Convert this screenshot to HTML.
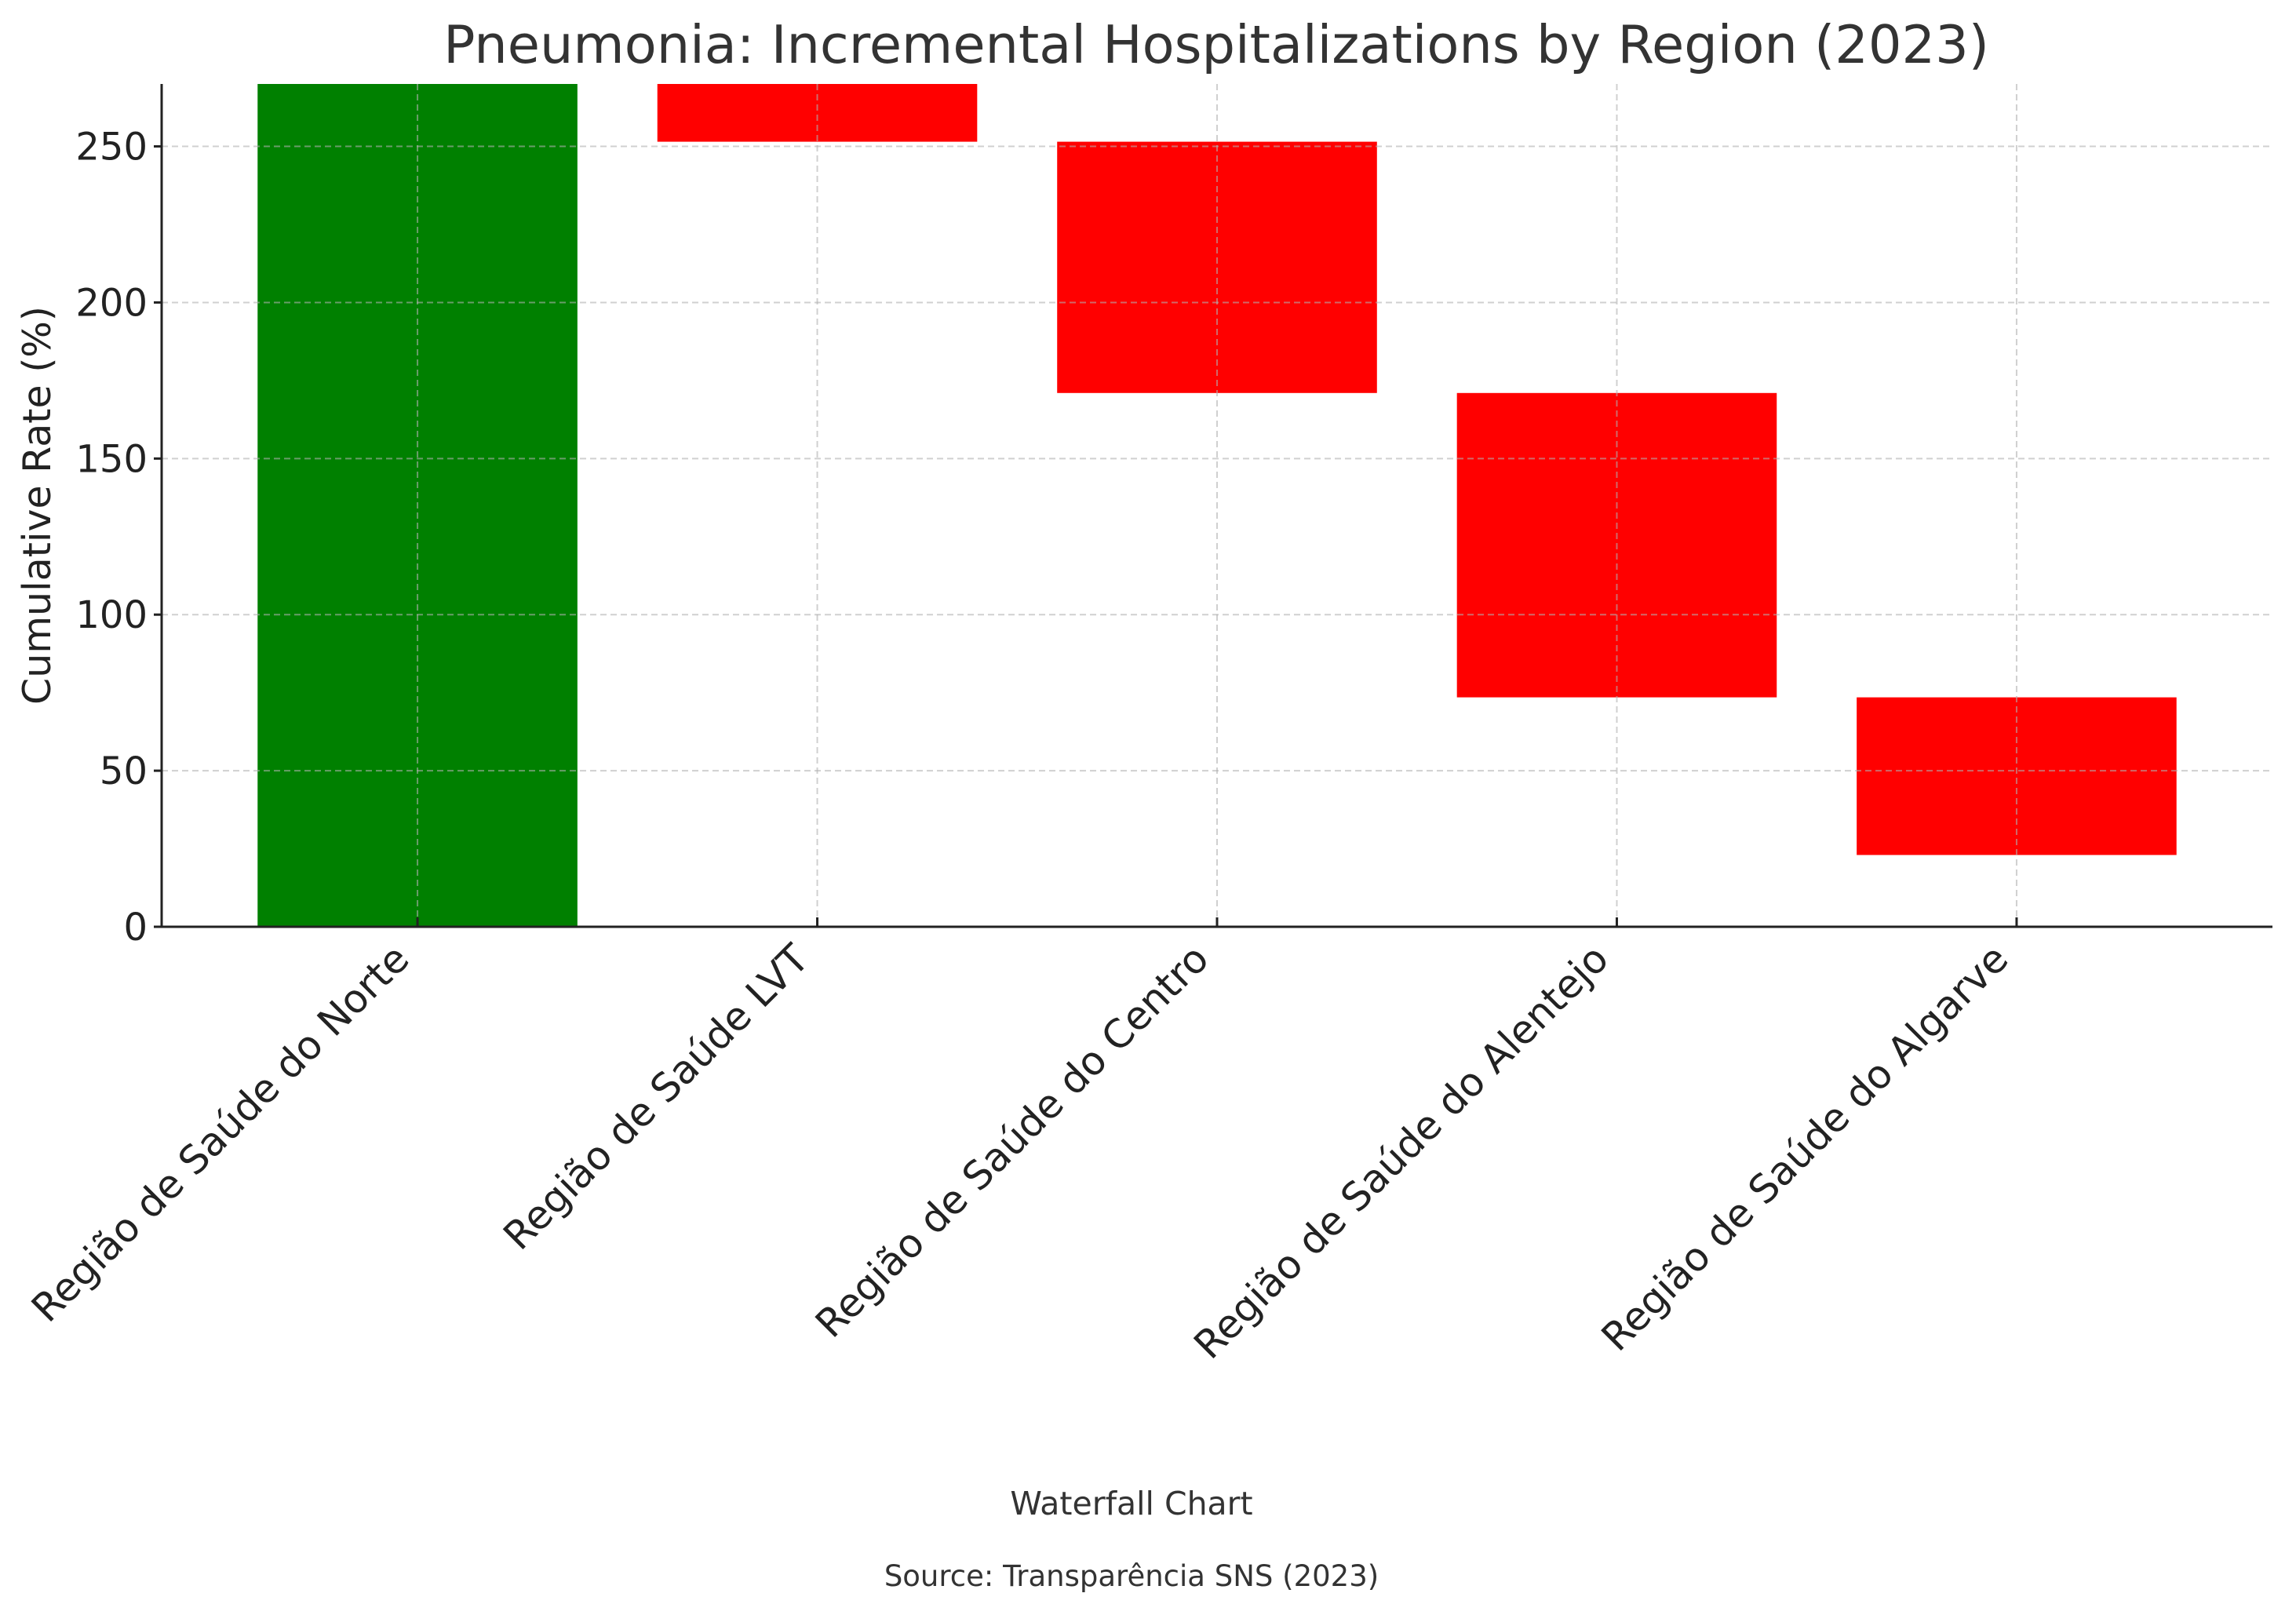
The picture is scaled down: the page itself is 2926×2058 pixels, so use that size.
<!DOCTYPE html>
<html><head><meta charset="utf-8"><style>body{margin:0;background:#fff}svg{display:block}text{font-family:"DejaVu Sans","Liberation Sans",sans-serif}</style></head>
<body>
<svg id="chart" width="2926" height="2058" viewBox="0 0 2926 2058" xmlns="http://www.w3.org/2000/svg">
<text x="1550" y="80" font-size="67" fill="#333" text-anchor="middle">Pneumonia: Incremental Hospitalizations by Region (2023)</text>
<text transform="translate(64,644) rotate(-90)" font-size="49" fill="#222" text-anchor="middle">Cumulative Rate (%)</text>
<text x="1442" y="1930" font-size="41" fill="#333" text-anchor="middle">Waterfall Chart</text>
<text x="1442" y="2021" font-size="37" fill="#333" text-anchor="middle">Source: Transparência SNS (2023)</text>
<g id="plot"></g>
</svg>
<script>
const categories = ["Região de Saúde do Norte","Região de Saúde LVT","Região de Saúde do Centro","Região de Saúde do Alentejo","Região de Saúde do Algarve"];
const changes = [290, -38.5, -80.5, -97.5, -50.5];
const yTicks = [0, 50, 100, 150, 200, 250];
const yMax = 270;

const L=206, R=2896, T=107, B=1181;
const xMin=-0.64, xMax=4.64;
const sx = i => L + (i - xMin) / (xMax - xMin) * (R - L);
const sy = v => B - v / yMax * (B - T);
const bw = 0.8 * (R - L) / (xMax - xMin);
const NS = "http://www.w3.org/2000/svg";
const g = document.getElementById('plot');
function mk(tag, attrs){const e=document.createElementNS(NS,tag);for(const k in attrs)e.setAttribute(k,attrs[k]);g.appendChild(e);return e;}

let cum = 0;
categories.forEach((c,i)=>{
  const start = cum, end = cum + changes[i];
  cum = end;
  let lo = Math.min(start,end), hi = Math.min(Math.max(start,end), yMax);
  const r = mk('rect',{x:sx(i)-bw/2,y:sy(hi),width:bw,height:sy(lo)-sy(hi),fill: i===0||changes[i]>=0 ? '#008000' : '#ff0000'});
  
  
});
yTicks.forEach(v=>{
  const l = mk('line',{x1:L,x2:R,y1:sy(v),y2:sy(v),stroke:'#b0b0b0','stroke-opacity':0.6,'stroke-width':2,'stroke-dasharray':'8,5'});
  
  
  const t = mk('line',{x1:L-10,x2:L,y1:sy(v),y2:sy(v),stroke:'#222','stroke-width':3});
  
  
  const tx = mk('text',{x:L-18,y:sy(v)+17,'font-size':48,fill:'#222','text-anchor':'end'});
  tx.textContent = v;
  
  
});
categories.forEach((c,i)=>{
  const x = sx(i);
  const l = mk('line',{x1:x,x2:x,y1:T,y2:B,stroke:'#b0b0b0','stroke-opacity':0.6,'stroke-width':2,'stroke-dasharray':'8,5'});
  
  
  const t = mk('line',{x1:x,x2:x,y1:B,y2:B-12,stroke:'#222','stroke-width':3});
  
  
  const tx = mk('text',{transform:`translate(${x-8},${B+44}) rotate(-45)`,'font-size':50,fill:'#222','text-anchor':'end'});
  tx.textContent = c;
  
  
});
const ya = mk('line',{x1:L,x2:L,y1:T,y2:B,stroke:'#222','stroke-width':3});


const xa = mk('line',{x1:L,x2:R,y1:B,y2:B,stroke:'#222','stroke-width':3});


</script>
</body></html>
